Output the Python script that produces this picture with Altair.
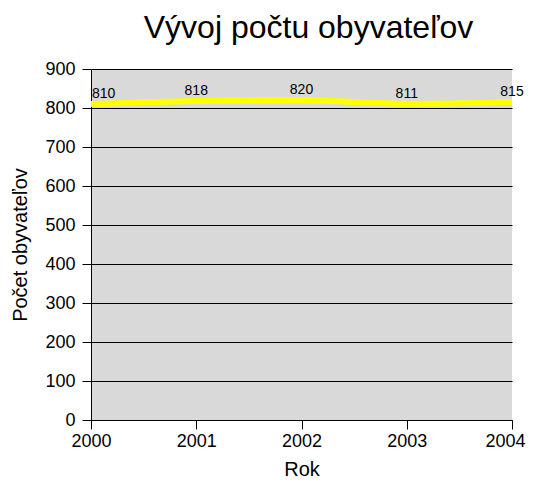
import altair as alt
import pandas as pd

years = [2000, 2001, 2002, 2003, 2004]
population = [810, 818, 820, 811, 815]
y_ticks = [0, 100, 200, 300, 400, 500, 600, 700, 800, 900]

df = pd.DataFrame({"Rok": years, "Pocet": population})

FONT = "Liberation Sans"

x = alt.X("Rok:Q", scale=alt.Scale(domain=[2000, 2004], nice=False),
          axis=alt.Axis(title="Rok", format="d", values=years, grid=False,
                        tickSize=9, tickColor="black", domainColor="black",
                        labelFontSize=18, labelColor="black", labelFont=FONT,
                        labelPadding=3, labelOverlap=False, labelFlush=False,
                        labelOffset={"condition": {"test": "datum.value == 2004", "value": -7},
                                     "value": 0},
                        titleFontSize=20, titleFont=FONT,
                        titleFontWeight="normal", titleColor="black", titlePadding=9))
y = alt.Y("Pocet:Q", scale=alt.Scale(domain=[0, 900], nice=False),
          axis=alt.Axis(title="Počet obyvateľov", values=y_ticks,
                        grid=True, gridColor="black", gridOpacity=1, gridWidth=1,
                        tickSize=9, tickColor="black", domainColor="black",
                        labelFontSize=18, labelColor="black", labelFont=FONT,
                        labelPadding=7, labelOverlap=False, labelFlush=False,
                        titleFontSize=20, titleFont=FONT,
                        titleFontWeight="normal", titleColor="black", titlePadding=14))

base = alt.Chart(df).encode(x=x, y=y)

line = base.mark_line(color="#FFFF00", strokeWidth=6, interpolate="monotone")

labels_mid = base.transform_filter("datum.Rok > 2000").mark_text(
    fontSize=14, font=FONT, color="black", baseline="bottom", dy=-3
).encode(text="Pocet:Q")

labels_first = base.transform_filter("datum.Rok == 2000").mark_text(
    fontSize=14, font=FONT, color="black", baseline="bottom", align="left", dy=-3, dx=1
).encode(text="Pocet:Q")

chart = alt.layer(line, labels_mid, labels_first).properties(
    width=421, height=351,
    autosize=alt.AutoSizeParams(type="none"),
    padding={"left": 83, "top": 61, "right": 14, "bottom": 60},
    title=alt.TitleParams("Vývoj počtu obyvateľov", fontSize=32, font=FONT,
                          fontWeight="normal", color="black", anchor="middle", dx=7, offset=15),
).configure(background="white").configure_view(fill="#D9D9D9", strokeWidth=0)

chart.save("out.html", embed_options={"renderer": "svg", "actions": False})
